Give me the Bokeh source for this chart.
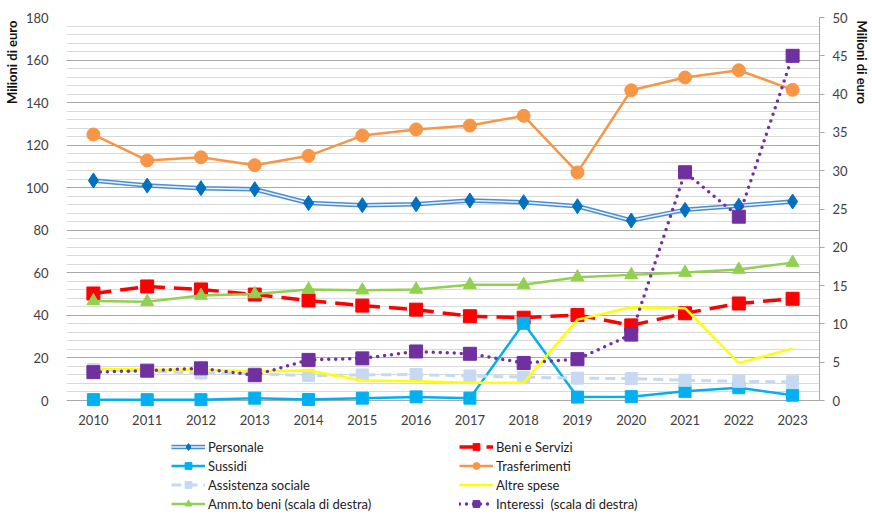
from bokeh.plotting import figure
from bokeh.models import (Range1d, LinearAxis, SingleIntervalTicker, FixedTicker,
                          Legend, LegendItem, Title)
from bokeh.embed import file_html
from bokeh.resources import INLINE

years = [2010, 2011, 2012, 2013, 2014, 2015, 2016, 2017, 2018, 2019, 2020, 2021, 2022, 2023]
personale = [103.4, 101.0, 99.8, 99.3, 92.8, 91.8, 92.2, 94.0, 93.2, 91.3, 84.6, 89.6, 91.5, 93.5]
beni_servizi = [50.3, 53.6, 52.2, 49.8, 47.0, 44.6, 42.7, 39.6, 38.9, 40.2, 35.3, 41.0, 45.6, 47.8]
sussidi = [0.4, 0.4, 0.4, 1.1, 0.5, 1.1, 1.7, 1.1, 36.3, 1.6, 1.8, 4.3, 6.0, 2.5]
trasferimenti = [125.0, 112.8, 114.3, 110.6, 115.0, 124.5, 127.4, 129.2, 133.8, 107.2, 145.8, 151.8, 155.2, 146.0]
assistenza = [14.5, 13.8, 12.9, 12.6, 11.7, 12.0, 12.2, 11.5, 11.0, 10.5, 10.3, 9.5, 9.0, 8.8]
altre_spese = [14.9, 14.6, 14.4, 13.8, 14.1, 9.4, 9.1, 8.4, 8.3, 38.0, 43.8, 43.4, 17.6, 24.4]
ammortamenti = [13.0, 12.9, 13.7, 13.9, 14.5, 14.4, 14.5, 15.1, 15.1, 16.1, 16.4, 16.7, 17.1, 18.0]
interessi = [3.7, 3.9, 4.2, 3.3, 5.3, 5.5, 6.4, 6.1, 4.9, 5.4, 8.6, 29.8, 24.0, 45.0]
axis_title = "Milioni di euro"

FONT = "Lato"
TXT = "#404040"

# plot area: 0..180 (left) / 0..50 (right) occupy the top 383 px of the frame,
# the lower 115 px of the frame hold the year labels and the legend
LEFT_MAX, RIGHT_MAX = 180, 50
frac = 115 / 383
p = figure(width=872, height=515, output_backend="svg", toolbar_location=None,
           x_range=Range1d(2009.5, 2023.5), y_range=Range1d(-LEFT_MAX * frac, LEFT_MAX),
           min_border_left=62, min_border_right=48, min_border_top=17, min_border_bottom=0)
p.extra_y_ranges = {"right": Range1d(-RIGHT_MAX * frac, RIGHT_MAX)}
p.outline_line_color = None
p.background_fill_color = "white"
p.border_fill_color = "white"

# left axis
lt = SingleIntervalTicker(interval=20, num_minor_ticks=5)
la = p.yaxis[0]
la.ticker = lt
la.bounds = (0, LEFT_MAX)
la.axis_line_color = None
la.major_tick_line_color = None
la.minor_tick_line_color = None
la.major_label_standoff = 12
la.major_label_text_font = FONT
la.major_label_text_font_size = "13px"
la.major_label_text_color = TXT

p.ygrid.ticker = lt
p.ygrid.bounds = (0, LEFT_MAX)
p.ygrid.grid_line_color = "#a8a8a8"
p.ygrid.minor_grid_line_color = "#d9d9d9"
p.xgrid.grid_line_color = None

# bottom axis (drawn at y = 0 inside the frame)
xa = p.xaxis[0]
xa.fixed_location = 0
xa.ticker = FixedTicker(ticks=years)
xa.axis_line_color = None
xa.major_tick_line_color = None
xa.minor_tick_line_color = None
xa.major_label_standoff = 8
xa.major_label_text_font = FONT
xa.major_label_text_font_size = "13px"
xa.major_label_text_color = TXT

# right axis
ra = LinearAxis(y_range_name="right", ticker=SingleIntervalTicker(interval=5, num_minor_ticks=0))
ra.bounds = (0, RIGHT_MAX)
ra.axis_line_color = "#a8a8a8"
ra.major_tick_line_color = "#a8a8a8"
ra.major_tick_out = 5
ra.major_tick_in = 0
ra.minor_tick_line_color = None
ra.major_label_standoff = 8
ra.major_label_text_font = FONT
ra.major_label_text_font_size = "13px"
ra.major_label_text_color = TXT
p.add_layout(ra, "right")

# axis titles near the top of each side
p.add_layout(Title(text=axis_title, align="right", vertical_align="middle", offset=3, standoff=4,
                   text_font=FONT, text_font_size="13px", text_font_style="bold",
                   text_color="#111111"), "left")
p.add_layout(Title(text=axis_title, align="left", vertical_align="middle", offset=3, standoff=4,
                   text_font=FONT, text_font_size="13px", text_font_style="bold",
                   text_color="#111111"), "right")

# series
r_pers_o = p.line(years, personale, line_color="#4A8FD0", line_width=4.5)
r_pers_i = p.line(years, personale, line_color="#EAF2FB", line_width=1.5)
r_pers_m = p.scatter(years, personale, marker="diamond", size=15, fill_color="#0070C0", line_color="#0070C0")

r_beni_l = p.line(years, beni_servizi, line_color="#FF0000", line_width=3.5, line_dash="18 9")
r_beni_m = p.scatter(years, beni_servizi, marker="square", size=13, fill_color="#FF0000", line_color="#FF0000")

r_suss_l = p.line(years, sussidi, line_color="#00B0F0", line_width=2.5)
r_suss_m = p.scatter(years, sussidi, marker="square", size=12, fill_color="#00B0F0", line_color="#00B0F0")

r_tras_l = p.line(years, trasferimenti, line_color="#F79646", line_width=2.5)
r_tras_m = p.scatter(years, trasferimenti, marker="circle", size=13, fill_color="#F79646", line_color="#F79646")

r_ass_l = p.line(years, assistenza, line_color="#C6D9F1", line_width=3, line_dash="10 6")
r_ass_m = p.scatter(years, assistenza, marker="square", size=12, fill_color="#C6D9F1", line_color="#C6D9F1")

r_altre = p.line(years, altre_spese, line_color="#FFFF00", line_width=2.5)

r_amm_l = p.line(years, ammortamenti, line_color="#92D050", line_width=2.5, y_range_name="right")
r_amm_m = p.scatter(years, ammortamenti, marker="triangle", size=13, fill_color="#92D050",
                    line_color="#92D050", y_range_name="right")

r_int_l = p.line(years, interessi, line_color="#7030A0", line_width=3.5, line_dash="0 7",
                 line_cap="round", y_range_name="right")
r_int_m = p.scatter(years, interessi, marker="square", size=13, fill_color="#7030A0",
                    line_color="#7030A0", y_range_name="right")

items = [
    LegendItem(label="Personale", renderers=[r_pers_o, r_pers_i, r_pers_m]),
    LegendItem(label="Sussidi", renderers=[r_suss_l, r_suss_m]),
    LegendItem(label="Assistenza sociale", renderers=[r_ass_l, r_ass_m]),
    LegendItem(label="Amm.to beni (scala di destra)", renderers=[r_amm_l, r_amm_m]),
    LegendItem(label="Beni e Servizi", renderers=[r_beni_l, r_beni_m]),
    LegendItem(label="Trasferimenti", renderers=[r_tras_l, r_tras_m]),
    LegendItem(label="Altre spese", renderers=[r_altre]),
    LegendItem(label="Interessi  (scala di destra)", renderers=[r_int_l, r_int_m]),
]
leg = Legend(items=items, location=(105, 3), orientation="vertical", ncols=2,
             glyph_width=34, glyph_height=17, label_height=17, label_width=249,
             label_standoff=3, spacing=2, padding=0, margin=0,
             border_line_color=None, background_fill_alpha=0,
             label_text_font=FONT, label_text_font_size="13px", label_text_color="#222222")
p.add_layout(leg, "center")

open("out.html", "w").write(file_html(p, INLINE))
